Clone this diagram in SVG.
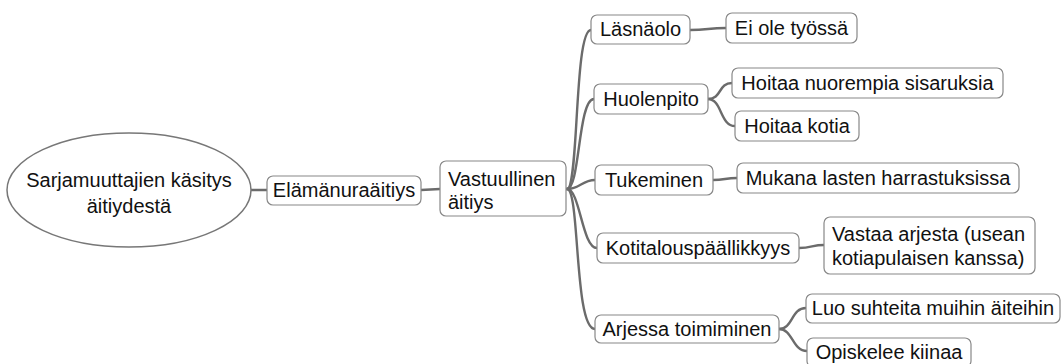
<svg xmlns="http://www.w3.org/2000/svg" width="1062" height="364" viewBox="0 0 1062 364">
<style>
.box{fill:#fff;stroke:#888;stroke-width:1.2}
.root{fill:#fff;stroke:#777;stroke-width:1.5}
.t{font-family:"Liberation Sans",Arial,sans-serif;font-size:20px;fill:#111}
.c{text-anchor:middle}
.con path{fill:none;stroke:#6b6b6b;stroke-width:2.4;stroke-linecap:round}
</style>
<rect width="1062" height="364" fill="#fff"/>
<g id="connectors" class="con">
<path d="M251,190 L267,190"/>
<path d="M421,190 L440,189"/>
<path d="M567,189 C579,189 574,30 591,30"/>
<path d="M567,189 C580,189 578,99 594,99"/>
<path d="M567,189 C580,189 582,180 595,180"/>
<path d="M567,189 C580,189 582,248 597,248"/>
<path d="M567,189 C580,189 574,329 595,329"/>
<path d="M690,30 C708,30 708,28 726,28"/>
<path d="M708,99 C722,99 718,83 732,83"/>
<path d="M708,99 C722,99 720,126 735,126"/>
<path d="M713,180 C725,180 725,178 737,178"/>
<path d="M799,248 C812,248 812,245 824,245"/>
<path d="M779,329 C793,329 791,308 806,308"/>
<path d="M779,329 C793,329 792,351 807,351"/>
</g>
<g id="root">
<ellipse class="root" cx="129" cy="190" rx="122" ry="57"/>
<text class="t c" x="129" y="187">Sarjamuuttajien käsitys</text>
<text class="t c" x="129" y="213">äitiydestä</text>
</g>
<g id="elamanura">
<rect class="box" x="267" y="176" width="154" height="29" rx="6"/>
<text class="t c" x="344" y="197">Elämänuraäitiys</text>
</g>
<g id="vastuullinen">
<rect class="box" x="440" y="161" width="126" height="55" rx="6"/>
<text class="t" x="448" y="186">Vastuullinen</text>
<text class="t" x="448" y="209">äitiys</text>
</g>
<g id="lasnaolo">
<rect class="box" x="591" y="15" width="99" height="29" rx="6"/>
<text class="t c" x="640.5" y="36">Läsnäolo</text>
</g>
<g id="ei-ole-tyossa">
<rect class="box" x="726" y="13" width="131" height="30" rx="6"/>
<text class="t c" x="791.5" y="35">Ei ole työssä</text>
</g>
<g id="huolenpito">
<rect class="box" x="594" y="84" width="114" height="30" rx="6"/>
<text class="t c" x="651" y="106">Huolenpito</text>
</g>
<g id="hoitaa-nuorempia">
<rect class="box" x="732" y="68" width="271" height="30" rx="6"/>
<text class="t c" x="867.5" y="90">Hoitaa nuorempia sisaruksia</text>
</g>
<g id="hoitaa-kotia">
<rect class="box" x="735" y="111" width="124" height="30" rx="6"/>
<text class="t c" x="797" y="133">Hoitaa kotia</text>
</g>
<g id="tukeminen">
<rect class="box" x="595" y="165" width="118" height="30" rx="6"/>
<text class="t c" x="654" y="187">Tukeminen</text>
</g>
<g id="mukana">
<rect class="box" x="737" y="163" width="282" height="30" rx="6"/>
<text class="t c" x="878" y="185">Mukana lasten harrastuksissa</text>
</g>
<g id="kotitalous">
<rect class="box" x="597" y="233" width="202" height="30" rx="6"/>
<text class="t c" x="698" y="255">Kotitalouspäällikkyys</text>
</g>
<g id="vastaa">
<rect class="box" x="824" y="217" width="211" height="57" rx="6"/>
<text class="t" x="832" y="241">Vastaa arjesta (usean</text>
<text class="t" x="832" y="265">kotiapulaisen kanssa)</text>
</g>
<g id="arjessa">
<rect class="box" x="595" y="315" width="184" height="28" rx="6"/>
<text class="t c" x="687" y="336">Arjessa toimiminen</text>
</g>
<g id="luo">
<rect class="box" x="806" y="294" width="254" height="29" rx="6"/>
<text class="t c" x="933" y="315">Luo suhteita muihin äiteihin</text>
</g>
<g id="opiskelee">
<rect class="box" x="807" y="338" width="164" height="29" rx="6"/>
<text class="t c" x="889" y="359">Opiskelee kiinaa</text>
</g>
</svg>
